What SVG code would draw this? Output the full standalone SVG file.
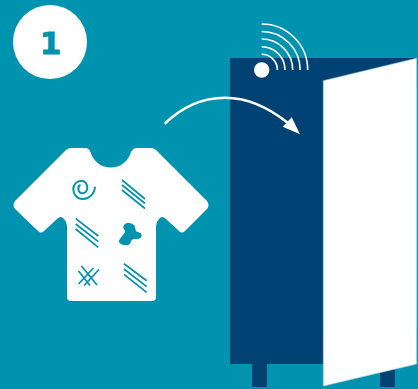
<svg xmlns="http://www.w3.org/2000/svg" width="418" height="389" viewBox="0 0 418 389">
<style>
.t{fill:none;stroke:#0093b0;stroke-width:1.7}
.s{fill:none;stroke:#0093b0;stroke-width:2}
.w{fill:none;stroke:#fff;stroke-width:1.6}
.navy{fill:#004274}
</style>
<rect width="418" height="389" fill="#0093b0"/>
<g id="badge"><circle cx="50" cy="42" r="37" fill="#fff"/>
<text x="50.500" y="53.500" text-anchor="middle" font-family="'DejaVu Sans',sans-serif" font-weight="700" font-size="31" fill="#0093b0" stroke="#0093b0" stroke-width=".9">1</text></g>
<g id="shirt">
<path fill="#fff" d="M71 148H85Q89 148 90.500 152A21 21 0 0 0 131 152Q133 148 137 148H151Q154 148 156 150L207 201Q210 205 207 209L185 231Q182 234 179 231L166 219Q162 215 159 219Q156 222 156 226V297Q156 301 152 301H71Q67 301 67 297V226Q67 222 64 219Q61 215 57 219L44 231Q41 234 38 231L15 209Q12 205 15 201L66 150Q68 148 71 148Z"/>
<path class="t" d="M122 180L145 199M122 185L145 203.500M122 190L145 208.500"/>
<path class="t" d="M75.700 218.700L98.300 236M75.700 224L98.300 241.700M75.700 229L98.300 247.300"/>
<path class="t" d="M124 263.700L146.700 280.700M124 269L146.700 286.700M124 274.300L146.700 292.300"/>
<path class="t" d="M81.500 266L97 285M78.500 271L90 285.500M78.500 284L93.500 268M84 285.500L99 269.500"/>
<path class="s" d="M95 186.700C94.500 194 89 199 83 199C77 199 73.300 194.500 73.300 189.300C73.300 184.300 77 180.700 81.700 180.700C85 180.700 87.300 184 87.300 188C87.300 191 85 193.300 82 193.300C80 193.300 78.300 191 78.300 188.500C78.300 186.800 79 185.500 80.500 185"/>
<path fill="#0093b0" d="M123.300 226.700C124 224 126 222.800 128 223C131.500 223 134.500 224.500 135 227C135.500 229 135.500 230.500 136.500 231.500C138.500 232.500 141.500 232.500 141.700 235C141.700 238 139 239.300 136.700 239C135 238.800 133 239 131.700 240C130.500 241.500 130.500 244 128.300 245C125.500 245.800 121.500 245 120 243.300C118.800 242 118.800 241 119.300 240C120.500 237 124 235 125 231.700C125.300 229.500 122.800 229 123.300 226.700Z"/>
</g>
<g id="cabinet">
<rect class="navy" x="252" y="360" width="15" height="27"/>
<rect class="navy" x="380" y="360" width="15" height="27"/>
<rect class="navy" x="230" y="58" width="93.500" height="306"/>
<rect class="navy" x="323" y="58" width="94" height="30"/>
<rect class="navy" x="323" y="330" width="94" height="34"/>
<polygon fill="#fff" stroke="#a9cfe0" stroke-width=".6" points="323.300,80.700 416.700,58.200 416.700,364 323.300,386"/>
<circle cx="261.700" cy="70" r="7.700" fill="#fff"/>
<path class="w" d="M261.700 54.300A15.700 15.700 0 0 1 277.400 70M261.700 46.700A23.300 23.300 0 0 1 285 70M261.700 39A31 31 0 0 1 292.700 70M261.700 31.500A38.500 38.500 0 0 1 300.200 70M261.700 24A46 46 0 0 1 307.700 70"/>
</g>
<g id="connectors">
<path fill="none" stroke="#fff" stroke-width="2.600" d="M164.700 123.700C183 106 204 97.700 225 97.700C247 97.700 268 107 288 123"/>
<polygon fill="#fff" points="300,134.300 282.700,126.700 291.700,117.300"/>
</g>
</svg>
